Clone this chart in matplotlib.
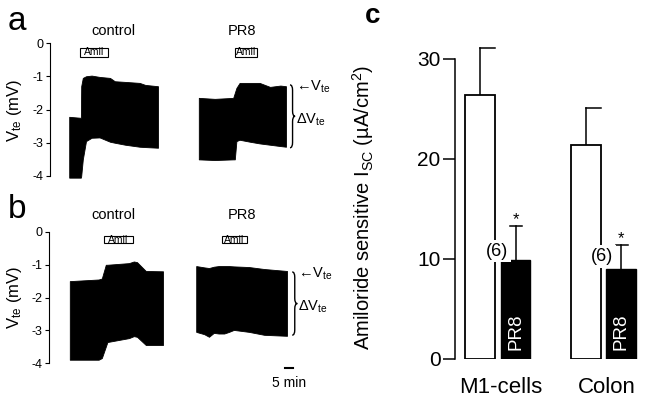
import matplotlib
matplotlib.use("Agg")
import matplotlib.pyplot as plt
from matplotlib.path import Path
from matplotlib.patches import PathPatch, Rectangle
import numpy as np

plt.rcParams['font.family'] = ['Liberation Sans', 'DejaVu Sans']
plt.rcParams['mathtext.fontset'] = 'custom'
plt.rcParams['mathtext.rm'] = 'Liberation Sans'
plt.rcParams['mathtext.it'] = 'Liberation Sans:italic'
plt.rcParams['axes.unicode_minus'] = False

# --- panel a / b : Vte recordings, upper and lower envelope (mV) vs time (min)
ctrl_a_t = [12, 19.3, 19.5, 20.5, 22.5, 26, 31, 37.5, 40.5, 47, 56, 59.5, 67.5]
ctrl_a_hi = [-2.22, -2.25, -1.3, -1.05, -1.0, -0.98, -1.02, -1.05, -1.15, -1.17, -1.2, -1.26, -1.3]
ctrl_a_lo = [-4.05, -4.05, -4.0, -3.5, -2.95, -2.85, -2.84, -2.97, -3.0, -3.06, -3.12, -3.13, -3.15]

pr8_a_t = [93, 103, 114.5, 115.5, 116.5, 118.5, 125, 131, 137.5, 144, 147.5]
pr8_a_hi = [-1.65, -1.68, -1.65, -1.5, -1.35, -1.2, -1.2, -1.2, -1.32, -1.28, -1.3]
pr8_a_lo = [-3.5, -3.52, -3.5, -3.5, -2.95, -2.91, -2.97, -3.02, -3.06, -3.1, -3.12]

ctrl_b_t = [13, 31, 33, 35.5, 36.5, 50, 53, 55, 60.5, 71.25]
ctrl_b_hi = [-1.5, -1.45, -1.42, -1.0, -1.0, -0.95, -0.9, -0.92, -1.19, -1.2]
ctrl_b_lo = [-3.9, -3.9, -3.85, -3.5, -3.36, -3.24, -3.18, -3.2, -3.45, -3.45]

pr8_b_t = [92, 97, 100, 103, 106, 109.5, 112.5, 115.5, 125, 134.5, 148.75]
pr8_b_hi = [-1.04, -1.08, -1.1, -1.06, -1.04, -1.04, -1.04, -1.05, -1.07, -1.13, -1.19]
pr8_b_lo = [-3.05, -3.12, -3.2, -3.08, -3.1, -3.1, -3.05, -2.99, -3.05, -3.14, -3.17]

# amiloride application (min)
amil_a = [(18.75, 36.25), (115.6, 129.4)]
amil_b = [(34.4, 52.5), (108, 124)]

# --- panel c : amiloride sensitive Isc (uA/cm2)
groups = ['M1-cells', 'Colon']
ctrl_mean = [26.4, 21.4]
ctrl_sem = [4.7, 3.7]
pr8_mean = [9.9, 9.0]
pr8_sem = [3.4, 2.4]
n_label = ['(6)', '(6)']

W, H = 649, 403
fig = plt.figure(figsize=(W / 100, H / 100), dpi=100)


def rect(x0, y0, x1, y1):
    # pixel box (top-left origin) -> figure fraction
    return [x0 / W, 1 - y1 / H, (x1 - x0) / W, (y1 - y0) / H]


def brace(ax, x, y0, y1, w, r):
    xm = x + w / 2
    ym = (y0 + y1) / 2
    verts = [(x, y0), (xm, y0), (xm, y0 - r), (xm, ym + r), (xm, ym), (x + w, ym),
             (xm, ym), (xm, ym - r), (xm, y1 + r), (xm, y1), (x, y1)]
    codes = [Path.MOVETO, Path.CURVE3, Path.CURVE3, Path.LINETO, Path.CURVE3, Path.CURVE3,
             Path.CURVE3, Path.CURVE3, Path.LINETO, Path.CURVE3, Path.CURVE3]
    ax.add_patch(PathPatch(Path(verts, codes), fill=False, lw=1, color='black', clip_on=False))


def trace_panel(ax, traces, amil, amil_y, br_x, br_top, br_bot):
    for t, hi, lo in traces:
        ax.fill_between(t, lo, hi, color='black', lw=0.6, edgecolor='black', clip_on=False)
    for t0, t1 in amil:
        ax.add_patch(Rectangle((t0, amil_y[1]), t1 - t0, amil_y[0] - amil_y[1],
                               fill=False, lw=0.8, ec='black', clip_on=False))
        ax.text((t0 + t1) / 2, sum(amil_y) / 2, 'Amil', ha='center', va='center', fontsize=7.5)
    ax.set_xlim(0, 165)
    ax.set_ylim(-4, 0)
    ax.set_yticks([0, -1, -2, -3, -4])
    ax.set_yticklabels(['0', '-1', '-2', '-3', '-4'])
    ax.tick_params(axis='y', length=3, width=0.8, pad=2, labelsize=9)
    for s in ['top', 'right', 'bottom']:
        ax.spines[s].set_visible(False)
    ax.spines['left'].set_linewidth(0.8)
    ax.set_xticks([])
    ax.patch.set_alpha(0)
    brace(ax, br_x, br_top, br_bot, 3.2, 0.16)
    ax.text(br_x + 3.5, br_top - 0.05, '←V$_{\\rm te}$', ha='left', va='center', fontsize=10.5)
    ax.text(br_x + 3.7, (br_top + br_bot) / 2 - 0.1, '$\\Delta$V$_{\\rm te}$',
            ha='left', va='center', fontsize=10.5)


ax_a = fig.add_axes(rect(50, 43, 50 + 165 * 1.6, 176))
trace_panel(ax_a, [(ctrl_a_t, ctrl_a_hi, ctrl_a_lo), (pr8_a_t, pr8_a_hi, pr8_a_lo)],
            amil_a, (-0.15, -0.42), 150, -1.26, -3.15)

ax_b = fig.add_axes(rect(49, 232, 49 + 165 * 1.6, 363))
trace_panel(ax_b, [(ctrl_b_t, ctrl_b_hi, ctrl_b_lo), (pr8_b_t, pr8_b_hi, pr8_b_lo)],
            amil_b, (-0.12, -0.34), 152, -1.22, -3.15)
# 5 min scale bar
ax_b.plot([147.5, 152.5], [-4.15, -4.15], color='black', lw=1.5, clip_on=False)
ax_b.text(150, -4.6, '5 min', ha='center', va='center', fontsize=10)

for ypx in [110, 297]:
    fig.text(15 / W, 1 - ypx / H, 'V$_{\\rm te}$ (mV)', rotation=90, ha='center', va='center',
             fontsize=12)
fig.text(17 / W, 1 - 22 / H, 'a', fontsize=24, ha='center', va='center')
fig.text(17 / W, 1 - 210 / H, 'b', fontsize=24, ha='center', va='center')
for ypx in [31, 215]:
    fig.text(113 / W, 1 - ypx / H, 'control', fontsize=10.5, ha='center', va='center')
    fig.text(242 / W, 1 - ypx / H, 'PR8', fontsize=10.5, ha='center', va='center')

# panel c
ax_c = fig.add_axes(rect(455, 359 - 330, 645, 359))
x = np.arange(len(groups))
off, bw = 0.168, 0.28
ax_c.bar(x - off, ctrl_mean, bw, color='white', edgecolor='black', lw=1.3, zorder=2)
ax_c.bar(x + off, pr8_mean, bw, color='black', edgecolor='black', lw=1.0, zorder=2)
for i in range(len(groups)):
    xc, xp = x[i] - off, x[i] + off
    top_c = ctrl_mean[i] + ctrl_sem[i]
    top_p = pr8_mean[i] + pr8_sem[i]
    ax_c.plot([xc, xc], [ctrl_mean[i], top_c], color='black', lw=1.1, zorder=1, clip_on=False)
    ax_c.plot([xc, xc + bw / 2], [top_c, top_c], color='black', lw=1.1, clip_on=False)
    ax_c.plot([xp, xp], [pr8_mean[i], top_p], color='black', lw=1.1, zorder=1)
    ax_c.plot([xp - 0.05, xp + 0.06], [top_p, top_p], color='black', lw=1.1)
    ax_c.text(xp, top_p + 0.6, '*', ha='center', va='center', fontsize=12)
    ax_c.text(xp, 2.7, 'PR8', color='white', rotation=90, ha='center', va='center',
              fontsize=13.5, zorder=4)
n_y = [10.8, 10.25]
for i in range(len(groups)):
    ax_c.text(x[i] - 0.01, n_y[i], n_label[i], ha='center', va='center', fontsize=13,
              zorder=5, bbox=dict(boxstyle='square,pad=0.15', fc='white', ec='none'))

ax_c.set_xlim(-0.404, 1.392)
ax_c.set_ylim(0, 33)
ax_c.set_yticks([0, 10, 20, 30])
ax_c.tick_params(axis='y', length=8.5, width=1.1, pad=2, labelsize=15)
ax_c.set_xticks(x + 0.03)
ax_c.set_xticklabels(groups, fontsize=16)
ax_c.tick_params(axis='x', length=0, pad=13)
for s in ['top', 'right', 'bottom']:
    ax_c.spines[s].set_visible(False)
ax_c.spines['left'].set_bounds(0, 30)
ax_c.spines['left'].set_linewidth(1.1)
ax_c.patch.set_alpha(0)

fig.text(363 / W, 1 - 208 / H, 'Amiloride sensitive I$_{\\rm SC}$ (µA/cm$^{2}$)', rotation=90,
         ha='center', va='center', fontsize=14.5)
fig.text(373 / W, 1 - 16 / H, 'c', fontsize=20, fontweight='bold', ha='center', va='center')

fig.savefig('out.png', dpi=100)
